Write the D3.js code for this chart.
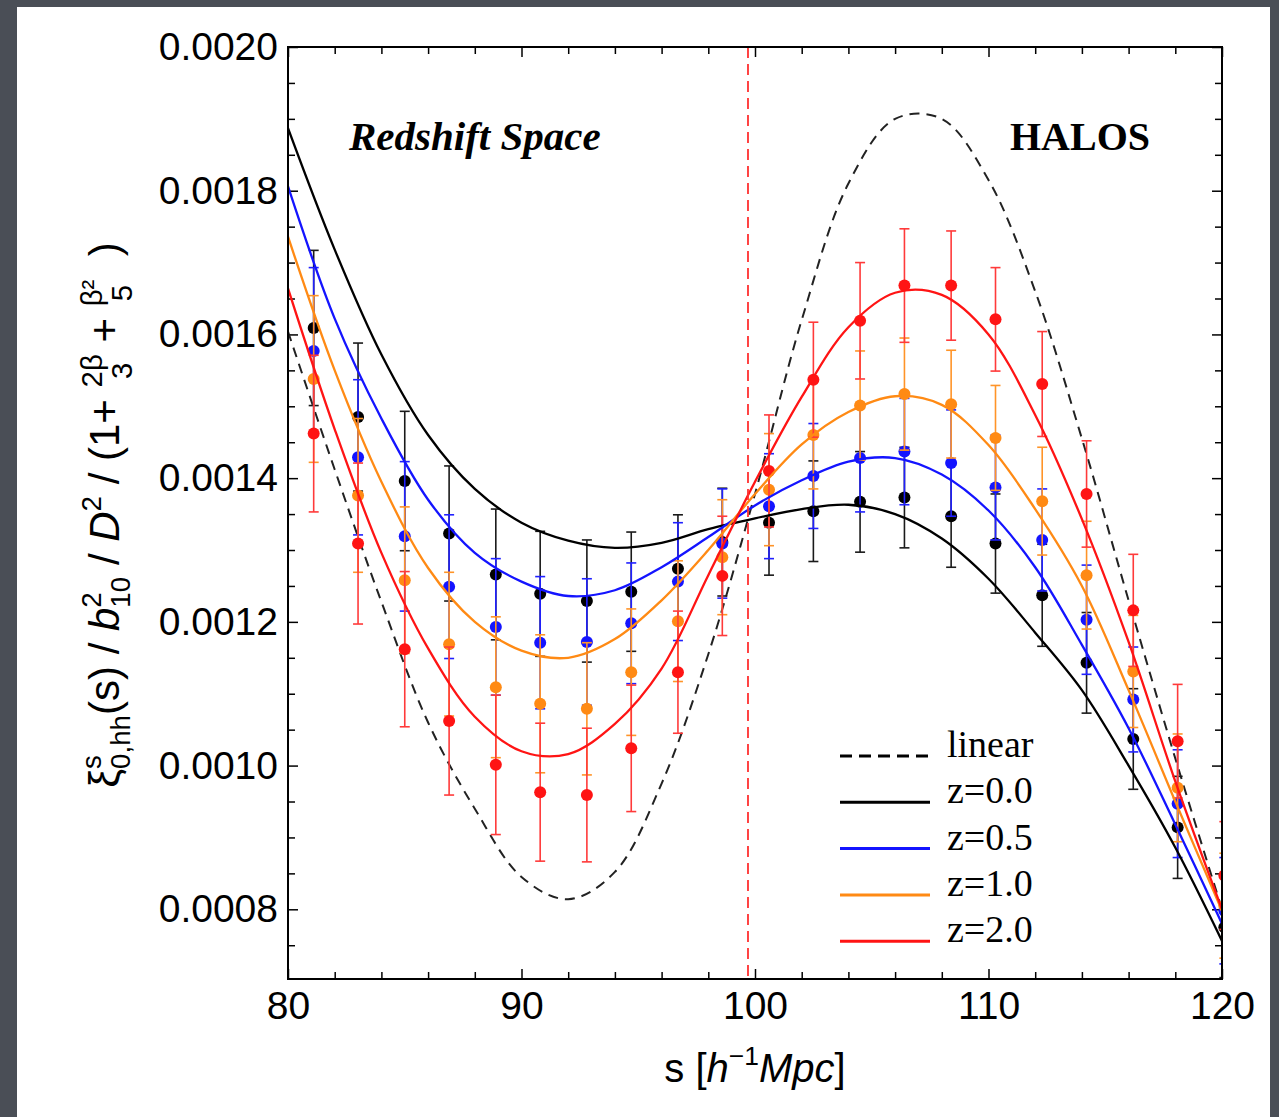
<!DOCTYPE html>
<html>
<head>
<meta charset="utf-8">
<script src="https://cdn.jsdelivr.net/npm/d3@7"></script>
<style>
  body { margin: 0; background: #4a4e56; }
  svg { display: block; }
</style>
</head>
<body>
<div id="chart"></div>
<script>
// ---- data ----
const seriesNames = ["z=0.0", "z=0.5", "z=1.0", "z=2.0"];

// model curves sampled every 2 h^-1 Mpc
const curveS = [80, 82, 84, 86, 88, 90, 92, 94, 96, 98, 100, 102, 104, 106, 108, 110, 112, 114, 116, 118, 120];
const curveLinear = [0.001604, 0.001412, 0.001228, 0.001060, 0.000940, 0.000845, 0.000814, 0.000852, 0.000975, 0.001155, 0.001378, 0.001620, 0.001810, 0.001900, 0.001900, 0.001815, 0.001660, 0.001455, 0.001230, 0.001010, 0.000800];
const curveZ00 = [0.001887, 0.001718, 0.001572, 0.001460, 0.001385, 0.001338, 0.001313, 0.001303, 0.001310, 0.001329, 0.001344, 0.001357, 0.001363, 0.001350, 0.001316, 0.001260, 0.001185, 0.001105, 0.001000, 0.000886, 0.000756];
const curveZ05 = [0.001806, 0.001622, 0.001483, 0.001370, 0.001296, 0.001256, 0.001236, 0.001244, 0.001276, 0.001318, 0.001362, 0.001397, 0.001423, 0.001428, 0.001405, 0.001355, 0.001276, 0.001168, 0.001052, 0.000918, 0.000780];
const curveZ10 = [0.001736, 0.001550, 0.001395, 0.001275, 0.001200, 0.001160, 0.001150, 0.001176, 0.001230, 0.001300, 0.001378, 0.001447, 0.001492, 0.001514, 0.001502, 0.001446, 0.001357, 0.001250, 0.001105, 0.000950, 0.000798];
const curveZ20 = [0.001664, 0.001468, 0.001296, 0.001163, 0.001068, 0.001020, 0.001016, 0.001058, 0.001135, 0.001265, 0.001395, 0.001513, 0.001610, 0.001658, 0.001655, 0.001600, 0.001488, 0.001343, 0.001172, 0.000978, 0.000800];

// measured points
const pointS = [81.1, 83.0, 85.0, 86.9, 88.9, 90.8, 92.8, 94.7, 96.7, 98.6, 100.6, 102.5, 104.5, 106.4, 108.4, 110.3, 112.3, 114.2, 116.2, 118.1, 120.1];
const ptsZ00 = [0.001609, 0.001485, 0.001396, 0.001323, 0.001266, 0.001239, 0.001229, 0.001242, 0.001274, 0.001311, 0.001338, 0.001354, 0.001367, 0.001373, 0.001347, 0.001309, 0.001237, 0.001143, 0.001037, 0.000914, 0.000775];
const errZ00 = [0.000108, 0.000103, 0.000097, 0.000094, 0.000091, 0.000087, 0.000085, 0.000083, 0.000075, 0.000075, 0.000073, 0.000070, 0.000070, 0.000070, 0.000071, 0.000069, 0.000071, 0.000070, 0.000070, 0.000071, 0.000070];
const ptsZ05 = [0.001577, 0.001429, 0.001319, 0.001249, 0.001193, 0.001171, 0.001172, 0.001198, 0.001256, 0.001309, 0.001361, 0.001403, 0.001428, 0.001437, 0.001421, 0.001387, 0.001314, 0.001203, 0.001092, 0.000947, 0.000798];
const errZ05 = [0.000116, 0.000108, 0.000104, 0.000100, 0.000095, 0.000092, 0.000088, 0.000084, 0.000082, 0.000076, 0.000073, 0.000073, 0.000075, 0.000074, 0.000074, 0.000073, 0.000071, 0.000076, 0.000073, 0.000075, 0.000074];
const ptsZ10 = [0.001538, 0.001376, 0.001258, 0.001169, 0.001109, 0.001086, 0.001079, 0.001130, 0.001201, 0.001290, 0.001384, 0.001460, 0.001501, 0.001517, 0.001503, 0.001456, 0.001368, 0.001265, 0.001131, 0.000969, 0.000805];
const errZ10 = [0.000116, 0.000107, 0.000102, 0.000100, 0.000098, 0.000096, 0.000092, 0.000088, 0.000084, 0.000080, 0.000078, 0.000075, 0.000076, 0.000078, 0.000075, 0.000073, 0.000075, 0.000075, 0.000078, 0.000075, 0.000073];
const ptsZ20 = [0.001462, 0.001309, 0.001162, 0.001062, 0.001001, 0.000963, 0.000959, 0.001024, 0.001130, 0.001264, 0.001410, 0.001537, 0.001619, 0.001668, 0.001668, 0.001621, 0.001531, 0.001378, 0.001216, 0.001034, 0.000847];
const errZ20 = [0.000109, 0.000112, 0.000108, 0.000103, 0.000097, 0.000096, 0.000093, 0.000088, 0.000085, 0.000083, 0.000078, 0.000080, 0.000081, 0.000079, 0.000076, 0.000072, 0.000073, 0.000074, 0.000078, 0.000079, 0.000075];

const xMajor = [80, 90, 100, 110, 120];
const yMajor = [0.0008, 0.0010, 0.0012, 0.0014, 0.0016, 0.0018, 0.0020];
const bafSplit = 99.7;   // red dashed vertical marker

// ---- layout ----
const W = 1279, H = 1117;
const pL = 288, pR = 1222, pT = 47, pB = 979;

const svg = d3.select("#chart").append("svg")
    .attr("width", W)
    .attr("height", H);

svg.append("rect").attr("width", W).attr("height", H).attr("fill", "#4a4e56");
svg.append("rect").attr("x", 17).attr("y", 7).attr("width", 1253).attr("height", H).attr("fill", "#ffffff");

const x = d3.scaleLinear().domain([80, 120]).range([pL, pR]);
const y = d3.scaleLinear().domain([0.000703, 0.002]).range([pB, pT]);

svg.append("clipPath").attr("id", "plot-clip")
    .append("rect")
    .attr("x", pL).attr("y", pT)
    .attr("width", pR - pL).attr("height", pB - pT);

// ---- axes (ticks pointing inward on all four sides) ----
const xMinor = d3.range(80, 121, 2).filter(d => d % 10 !== 0);
const yMinor = d3.range(15, 41).filter(k => k % 4 !== 0).map(k => k * 0.00005);

function styleAxis(g) {
    g.select(".domain").remove();
    g.selectAll(".tick line").attr("stroke", "#000").attr("stroke-width", 1.5);
    g.selectAll("text")
        .attr("fill", "#000")
        .style("font-family", "'Liberation Sans', Arial, Helvetica, sans-serif")
        .style("font-size", "39px");
}

svg.append("g").attr("transform", `translate(0,${pB})`)
    .call(d3.axisBottom(x).tickValues(xMajor).tickSizeInner(-10).tickSizeOuter(0).tickPadding(12).tickFormat(d3.format("d")))
    .call(styleAxis);
svg.append("g").attr("transform", `translate(0,${pB})`)
    .call(d3.axisBottom(x).tickValues(xMinor).tickSize(-7).tickFormat(""))
    .call(styleAxis);
svg.append("g").attr("transform", `translate(0,${pT})`)
    .call(d3.axisTop(x).tickValues(xMajor).tickSize(-10).tickFormat(""))
    .call(styleAxis);
svg.append("g").attr("transform", `translate(0,${pT})`)
    .call(d3.axisTop(x).tickValues(xMinor).tickSize(-7).tickFormat(""))
    .call(styleAxis);

svg.append("g").attr("transform", `translate(${pL},0)`)
    .call(d3.axisLeft(y).tickValues(yMajor).tickSizeInner(-10).tickSizeOuter(0).tickPadding(10).tickFormat(d3.format(".4f")))
    .call(styleAxis);
svg.append("g").attr("transform", `translate(${pL},0)`)
    .call(d3.axisLeft(y).tickValues(yMinor).tickSize(-7).tickFormat(""))
    .call(styleAxis);
svg.append("g").attr("transform", `translate(${pR},0)`)
    .call(d3.axisRight(y).tickValues(yMajor).tickSize(-10).tickFormat(""))
    .call(styleAxis);
svg.append("g").attr("transform", `translate(${pR},0)`)
    .call(d3.axisRight(y).tickValues(yMinor).tickSize(-7).tickFormat(""))
    .call(styleAxis);

// ---- plot content ----
const plot = svg.append("g").attr("clip-path", "url(#plot-clip)");

const line = d3.line()
    .x((d, i) => x(curveS[i]))
    .y(d => y(d))
    .curve(d3.curveCatmullRom.alpha(0.5));

plot.append("path")
    .datum(curveLinear)
    .attr("d", line)
    .attr("fill", "none")
    .attr("stroke", "#222")
    .attr("stroke-width", 2)
    .attr("stroke-dasharray", "10,7");

const series = [
    { name: seriesNames[0], curve: curveZ00, pts: ptsZ00, err: errZ00, color: "#000000", bar: "#1a1a1a" },
    { name: seriesNames[1], curve: curveZ05, pts: ptsZ05, err: errZ05, color: "#1414ff", bar: "#2020ff" },
    { name: seriesNames[2], curve: curveZ10, pts: ptsZ10, err: errZ10, color: "#ff8a14", bar: "#ff9428" },
    { name: seriesNames[3], curve: curveZ20, pts: ptsZ20, err: errZ20, color: "#ff1414", bar: "#ff3a3a" }
];

const cap = 5;
series.forEach(s => {
    const g = plot.append("g");
    const pts = s.pts.map((v, i) => ({ s: pointS[i], v: v, e: s.err[i] }));
    const bars = g.selectAll(".bar").data(pts).enter().append("g")
        .attr("stroke", s.bar)
        .attr("stroke-width", 1.6);
    bars.append("line")
        .attr("x1", d => x(d.s)).attr("x2", d => x(d.s))
        .attr("y1", d => y(d.v - d.e)).attr("y2", d => y(d.v + d.e));
    bars.append("line")
        .attr("x1", d => x(d.s) - cap).attr("x2", d => x(d.s) + cap)
        .attr("y1", d => y(d.v + d.e)).attr("y2", d => y(d.v + d.e));
    bars.append("line")
        .attr("x1", d => x(d.s) - cap).attr("x2", d => x(d.s) + cap)
        .attr("y1", d => y(d.v - d.e)).attr("y2", d => y(d.v - d.e));
    g.selectAll("circle").data(pts).enter().append("circle")
        .attr("cx", d => x(d.s))
        .attr("cy", d => y(d.v))
        .attr("r", 6)
        .attr("fill", s.color);
});

series.forEach(s => {
    plot.append("path")
        .datum(s.curve)
        .attr("d", line)
        .attr("fill", "none")
        .attr("stroke", s.color)
        .attr("stroke-width", 2.3);
});

// red dashed vertical marker
svg.append("line")
    .attr("x1", x(bafSplit)).attr("x2", x(bafSplit))
    .attr("y1", pT).attr("y2", pB)
    .attr("stroke", "#ff3030")
    .attr("stroke-width", 1.8)
    .attr("stroke-dasharray", "11,6");

// frame
svg.append("rect")
    .attr("x", pL).attr("y", pT)
    .attr("width", pR - pL).attr("height", pB - pT)
    .attr("fill", "none")
    .attr("stroke", "#000")
    .attr("stroke-width", 2);

// ---- annotations ----
svg.append("text")
    .attr("x", 349).attr("y", 150)
    .style("font-family", "'Liberation Serif', 'Times New Roman', serif")
    .style("font-size", "41px")
    .style("font-weight", "bold")
    .style("font-style", "italic")
    .text("Redshift Space");

svg.append("text")
    .attr("x", 1010).attr("y", 150)
    .style("font-family", "'Liberation Serif', 'Times New Roman', serif")
    .style("font-size", "40px")
    .style("font-weight", "bold")
    .text("HALOS");

// ---- legend ----
const legend = svg.append("g")
    .style("font-family", "'Liberation Serif', 'Times New Roman', serif")
    .style("font-size", "38px");
const legendItems = [{ name: "linear", color: "#000", dash: true }].concat(series.map(s => ({ name: s.name, color: s.color })));
legendItems.forEach((d, i) => {
    const ly = 756 + i * 46.3;
    legend.append("line")
        .attr("x1", 840).attr("x2", 930)
        .attr("y1", ly).attr("y2", ly)
        .attr("stroke", d.color)
        .attr("stroke-width", 3)
        .attr("stroke-dasharray", d.dash ? "12,7" : null);
    legend.append("text")
        .attr("x", 947).attr("y", ly + 1)
        .text(d.name);
});

// ---- axis titles ----
function rich(g, cols, base) {
    let cx = 0;
    cols.forEach(col => {
        const els = col.map(p => g.append("text")
            .attr("y", (p.dy || 0) * base)
            .style("font-size", (p.s || 1) * base + "px")
            .style("font-style", p.it ? "italic" : "normal")
            .style("white-space", "pre")
            .text(p.t));
        const ws = els.map(e => e.node().getComputedTextLength());
        const w = d3.max(ws);
        els.forEach((e, i) => e.attr("x", cx + (col[i].c ? (w - ws[i]) / 2 : 0)));
        cx += w;
    });
    return cx;
}

const sans = "'Liberation Sans', Arial, Helvetica, sans-serif";

const yTitle = svg.append("g")
    .attr("transform", "translate(119,515) rotate(-90)")
    .style("font-family", sans);
const yInner = yTitle.append("g");
const yw = rich(yInner, [
    [{ t: "ξ" }],
    [{ t: "s", s: 0.66, dy: -0.42 }, { t: "0,hh", s: 0.66, dy: 0.26 }],
    [{ t: "(s) / " }],
    [{ t: "b", it: 1 }],
    [{ t: "2", s: 0.66, dy: -0.42 }, { t: "10", s: 0.66, dy: 0.26 }],
    [{ t: " / " }],
    [{ t: "D", it: 1 }],
    [{ t: "2", s: 0.66, dy: -0.42 }],
    [{ t: " / (1+ " }],
    [{ t: "2β", s: 0.7, dy: -0.4, c: 1 }, { t: "3", s: 0.7, dy: 0.32, c: 1 }],
    [{ t: " + " }],
    [{ t: "β²", s: 0.7, dy: -0.4, c: 1 }, { t: "5", s: 0.7, dy: 0.32, c: 1 }],
    [{ t: "  )" }]
], 42);
yInner.attr("transform", `translate(${-yw / 2},0)`);

const xTitle = svg.append("g")
    .attr("transform", "translate(755,1082)")
    .style("font-family", sans);
const xInner = xTitle.append("g");
const xw = rich(xInner, [
    [{ t: "s [" }],
    [{ t: "h", it: 1 }],
    [{ t: "−1", s: 0.66, dy: -0.42 }],
    [{ t: "Mpc", it: 1 }],
    [{ t: "]" }]
], 40);
xInner.attr("transform", `translate(${-xw / 2},0)`);
</script>
</body>
</html>
